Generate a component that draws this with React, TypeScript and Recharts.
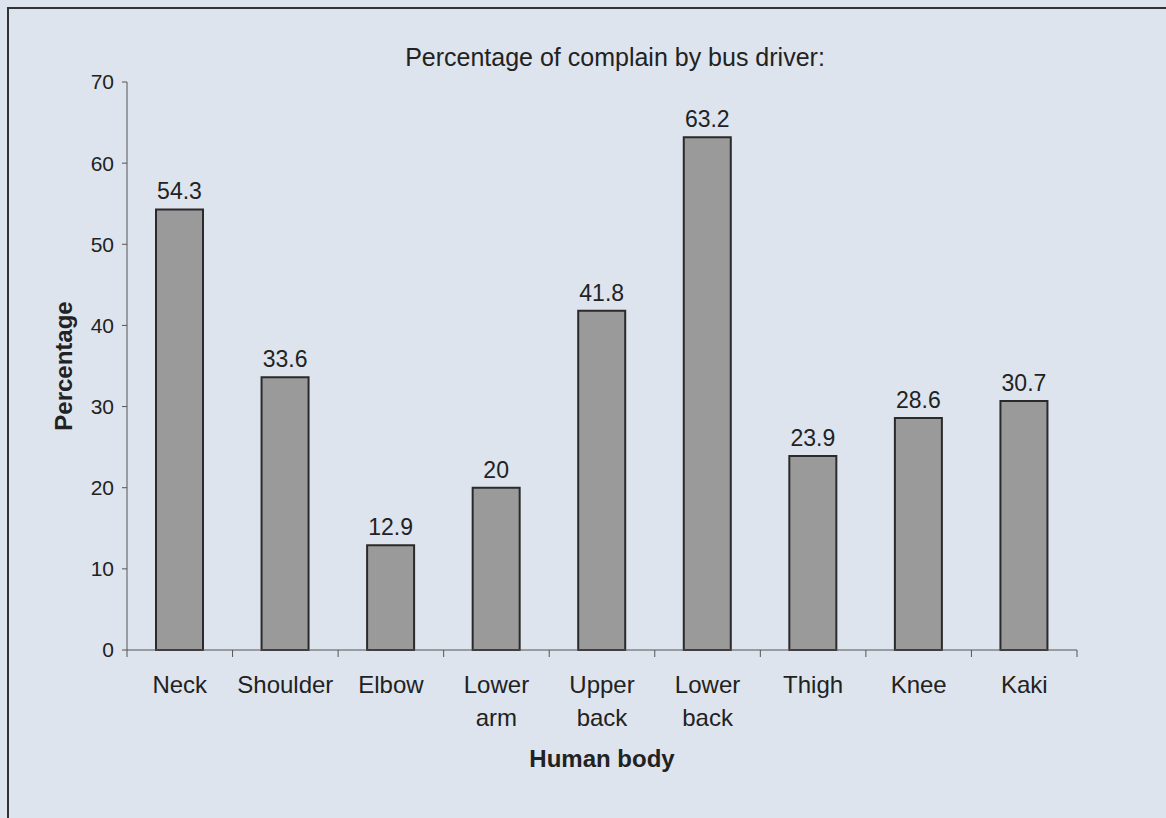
import { Bar, BarChart, LabelList, XAxis, YAxis, Label } from "recharts";

const parts = ["Neck", "Shoulder", "Elbow", "Lower arm", "Upper back", "Lower back", "Thigh", "Knee", "Kaki"];
const complaints = [54.3, 33.6, 12.9, 20, 41.8, 63.2, 23.9, 28.6, 30.7];
const yTicks = [0, 10, 20, 30, 40, 50, 60, 70];

const data = parts.map((p, i) => ({ part: p, value: complaints[i] }));

const FONT = "'Liberation Sans', Arial, sans-serif";
const INK = "#222";

function PartTick(props: any) {
  const { x, y, payload, index, visibleTicksCount } = props;
  const half = payload.offset ?? 0;
  const lines = String(payload.value).split(" ");
  const isLast = index === visibleTicksCount - 1;
  return (
    <g>
      <line x1={x - half} x2={x - half} y1={y} y2={y + 7} stroke="#555" />
      {isLast && <line x1={x + half} x2={x + half} y1={y} y2={y + 7} stroke="#555" />}
      <text x={x} y={y + 43} textAnchor="middle" fontSize={24} fill={INK} fontFamily={FONT}>
        {lines.map((l, i) => (
          <tspan key={i} x={x} dy={i === 0 ? 0 : 33}>{l}</tspan>
        ))}
      </text>
    </g>
  );
}

export default function App() {
  return (
    <div style={{ position: "absolute", left: 0, top: 0, width: 1166, height: 818, background: "#dde4ee", overflow: "hidden", fontFamily: FONT }}>
      <div style={{ position: "absolute", left: 7, top: 7, width: 1300, height: 1000, border: "2px solid #333" }} />
      <div style={{ position: "absolute", left: 13, width: 1204, top: 43, textAlign: "center", fontSize: 25, color: INK }}>
        Percentage of complain by bus driver:
      </div>
      <div style={{ position: "absolute", left: 0, top: 0 }}>
        <BarChart width={1166} height={818} data={data} margin={{ top: 82, right: 89, bottom: 0, left: 67 }}>
          <YAxis
            width={60}
            domain={[0, 70]}
            ticks={yTicks}
            interval={0}
            axisLine={{ stroke: "#555" }}
            tickLine={{ stroke: "#555" }}
            tickSize={5}
            tickMargin={8}
            tick={{ fontSize: 21, fill: INK, fontFamily: FONT }}
          >
            <Label value="Percentage" angle={-90} position="insideLeft" offset={-4}
                   style={{ fontSize: 24, fontWeight: "bold", fill: INK, fontFamily: FONT, textAnchor: "middle" }} />
          </YAxis>
          <XAxis
            dataKey="part"
            height={168}
            interval={0}
            axisLine={{ stroke: "#555" }}
            tickLine={false}
            tickSize={0}
            tickMargin={0}
            tick={<PartTick />}
          >
            <Label value="Human body" position="insideTop" offset={100}
                   style={{ fontSize: 24, fontWeight: "bold", fill: INK, fontFamily: FONT }} />
          </XAxis>
          <Bar dataKey="value" barSize={47} fill="#9a9a9a" stroke="#2a2a2a" strokeWidth={2} isAnimationActive={false}>
            <LabelList dataKey="value" position="top" offset={10} fontSize={23} fill={INK} fontFamily={FONT} />
          </Bar>
        </BarChart>
      </div>
    </div>
  );
}
